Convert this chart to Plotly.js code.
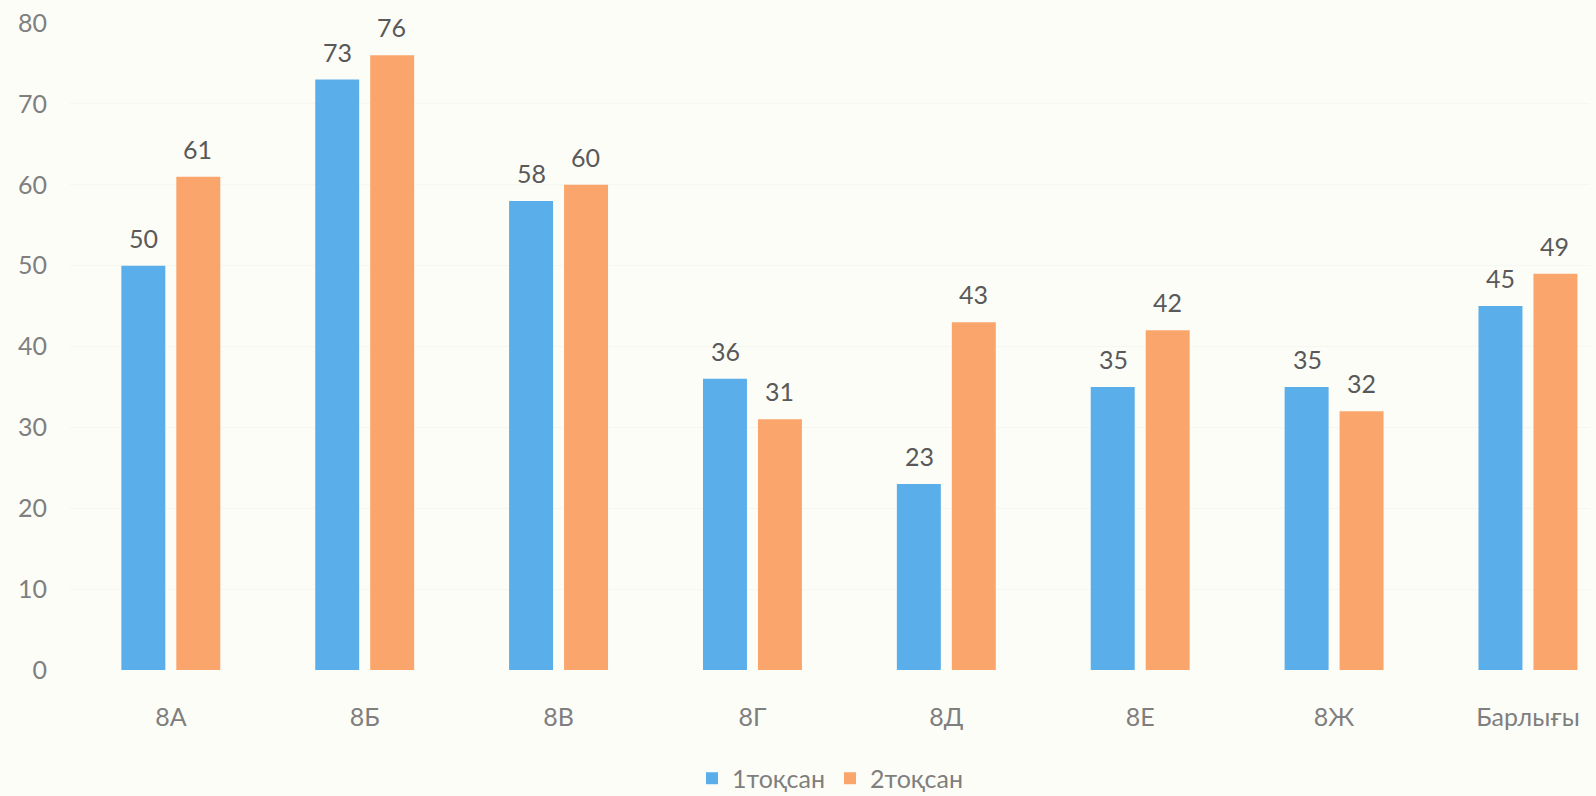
<!DOCTYPE html>
<html>
<head>
<meta charset="utf-8">
<script src="https://cdn.plot.ly/plotly-3.0.1.min.js"></script>
<style>html,body{margin:0;padding:0;background:#fdfdf8;}#chart{width:1596px;height:796px;}</style>
</head>
<body>
<div id="chart"></div>
<script>
const categories = ["8А", "8Б", "8В", "8Г", "8Д", "8Е", "8Ж", "Барлығы"];
const quarter1 = [50, 73, 58, 36, 23, 35, 35, 45];
const quarter2 = [61, 76, 60, 31, 43, 42, 32, 49];
const seriesNames = ["1тоқсан", "2тоқсан"];
const colors = ["#5AAEEA", "#F9A56B"];
const FONT = "Lato, 'Open Sans', 'Noto Sans', sans-serif";

const traces = [quarter1, quarter2].map((vals, k) => ({
  type: "bar",
  name: seriesNames[k],
  x: categories,
  y: vals,
  marker: {color: colors[k]},
  hoverinfo: "x+y+name"
}));

const annotations = [];
[quarter1, quarter2].forEach((vals, k) => {
  vals.forEach((v, i) => {
    annotations.push({
      x: categories[i], y: v, xref: "x", yref: "y",
      text: String(v), showarrow: false,
      xshift: k === 0 ? -27 : 27, yshift: 28, yanchor: "middle",
      font: {family: FONT, size: 25, color: "#595959"}
    });
  });
});

const layout = {
  width: 1596, height: 796,
  paper_bgcolor: "#fdfdf8", plot_bgcolor: "#fdfdf8",
  margin: {l: 70, r: 6, t: 23, b: 126},
  barmode: "group", bargap: 0.433, bargroupgap: 0.2,
  font: {family: FONT, size: 24, color: "#7f7f7f"},
  xaxis: {
    range: [-0.52, 7.32], showgrid: false, zeroline: false, showline: false,
    ticks: "", ticklabelstandoff: 30,
    tickfont: {family: FONT, size: 25, color: "#7f7f7f"}
  },
  yaxis: {
    range: [0, 80], dtick: 10, showgrid: true, gridcolor: "#f7f7f1", gridwidth: 1,
    zeroline: false, showline: false, ticks: "", ticklabelstandoff: 22,
    tickfont: {family: FONT, size: 25, color: "#7f7f7f"}
  },
  showlegend: true,
  legend: {orientation: "h", x: 0.5, xanchor: "center", xref: "paper",
           yref: "container", y: 0.022, yanchor: "middle",
           font: {family: FONT, size: 25, color: "#7f7f7f"}, itemwidth: 30, traceorder: "normal"},
  annotations: annotations
};

Plotly.newPlot("chart", traces, layout, {displayModeBar: false, responsive: false});
</script>
</body>
</html>
